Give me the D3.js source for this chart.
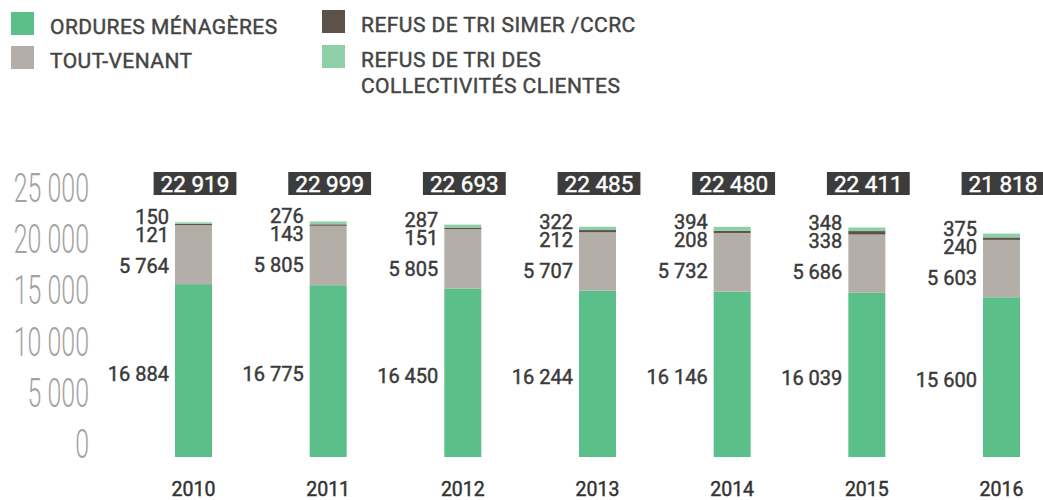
<!DOCTYPE html>
<html><head><meta charset="utf-8">
<script src="https://cdn.jsdelivr.net/npm/d3@7"></script>
<style>
html,body{margin:0;padding:0;background:#fff;}
svg{display:block;}
text{font-family:Roboto,"Noto Sans",sans-serif;}
.med{stroke-width:0.45px;paint-order:stroke;}
</style></head>
<body>
<svg id="chart" width="1043" height="500"></svg>
<script>
const years = ["2010","2011","2012","2013","2014","2015","2016"];
const ordures = [16884,16775,16450,16244,16146,16039,15600];
const toutVenant = [5764,5805,5805,5707,5732,5686,5603];
const refusSimer = [121,143,151,212,208,338,240];
const refusClients = [150,276,287,322,394,348,375];
const totals = [22919,22999,22693,22485,22480,22411,21818];
const yTicks = [0,5000,10000,15000,20000,25000];
const seriesNames = ["ORDURES MÉNAGÈRES","TOUT-VENANT","REFUS DE TRI SIMER /CCRC","REFUS DE TRI DES COLLECTIVITÉS CLIENTES"];
const colors = ["#5bbf8a","#b3aea8","#5d5249","#8ecfa8"];

const fmt = v => d3.format(",")(v).replace(/,/g," ");
const svg = d3.select("#chart");
const x = d3.scalePoint().domain(years).range([193.5,1001.5]);
const y = d3.scaleLinear().domain([0,25000]).range([457,201]);
const bw = 37;

// legend
const legendItems = [
  {name:[seriesNames[0]], c:colors[0], x:11, y:12},
  {name:[seriesNames[1]], c:colors[1], x:11, y:46},
  {name:[seriesNames[2]], c:colors[2], x:322, y:10},
  {name:["REFUS DE TRI DES","COLLECTIVITÉS CLIENTES"], c:colors[3], x:322, y:45}
];
const lg = svg.append("g");
legendItems.forEach(it=>{
  lg.append("rect").attr("x",it.x).attr("y",it.y).attr("width",23).attr("height",23).attr("fill",it.c);
  const t = lg.append("text").attr("class","med").attr("x",it.x+39).attr("y",it.y+22)
    .attr("font-size",21).attr("font-weight",400).attr("fill","#454545").attr("stroke","#454545").attr("letter-spacing","0.45px");
  it.name.forEach((n,i)=>t.append("tspan").attr("x",it.x+39).attr("dy",i?26:0).text(n));
});

// y axis labels
const ya = svg.append("g");
yTicks.forEach(v=>{
  ya.append("g").attr("transform",`translate(89,${y(v)+1}) scale(0.64,1.05)`)
    .append("text").attr("text-anchor","end").attr("font-size",39).attr("font-weight",300)
    .attr("fill","#a3a3a3").text(fmt(v));
});

// stacked data
const data = years.map((yr,i)=>({year:yr, ordures:ordures[i], toutVenant:toutVenant[i], refusSimer:refusSimer[i], refusClients:refusClients[i], total:totals[i]}));
const keys = ["ordures","toutVenant","refusSimer","refusClients"];
const stack = d3.stack().keys(keys)(data);
svg.append("g").selectAll("g").data(stack).join("g").attr("fill",(d,i)=>colors[i])
  .selectAll("rect").data(d=>d).join("rect")
  .attr("x",d=>x(d.data.year)-bw/2).attr("width",bw)
  .attr("y",d=>y(d[1])).attr("height",d=>y(d[0])-y(d[1]));

// value labels
const vl = svg.append("g").attr("class","med").attr("font-size",20).attr("font-weight",400)
  .attr("fill","#3a3a3a").attr("stroke","#3a3a3a").attr("text-anchor","end");
data.forEach(d=>{
  const lx = x(d.year)-bw/2-6;
  const top = y(d.ordures+d.toutVenant+d.refusSimer+d.refusClients);
  vl.append("text").attr("x",lx).attr("y",y(d.ordures/2)+10).text(fmt(d.ordures));
  vl.append("text").attr("x",lx).attr("y",top+51).text(fmt(d.toutVenant));
  vl.append("text").attr("x",lx).attr("y",top+20).text(fmt(d.refusSimer));
  vl.append("text").attr("x",lx).attr("y",top+2).text(fmt(d.refusClients));
});

// totals
const tg = svg.append("g");
data.forEach(d=>{
  const cx = x(d.year)+1.5;
  const t = tg.append("text").attr("class","med").attr("x",cx).attr("y",192).attr("text-anchor","middle")
    .attr("font-size",22.5).attr("font-weight",400).attr("fill","#fff").attr("stroke","#fff").text(fmt(d.total));
  const w = t.node().getComputedTextLength();
  tg.insert("rect","text").attr("x",cx-w/2-7).attr("y",172).attr("width",w+14).attr("height",23).attr("fill","#3c3c3c");
});

// x labels
svg.append("g").attr("class","med").selectAll("text").data(years).join("text")
  .attr("x",d=>x(d)).attr("y",496).attr("text-anchor","middle")
  .attr("font-size",19.5).attr("font-weight",400).attr("fill","#333").attr("stroke","#333").text(d=>d);
</script>
</body></html>
